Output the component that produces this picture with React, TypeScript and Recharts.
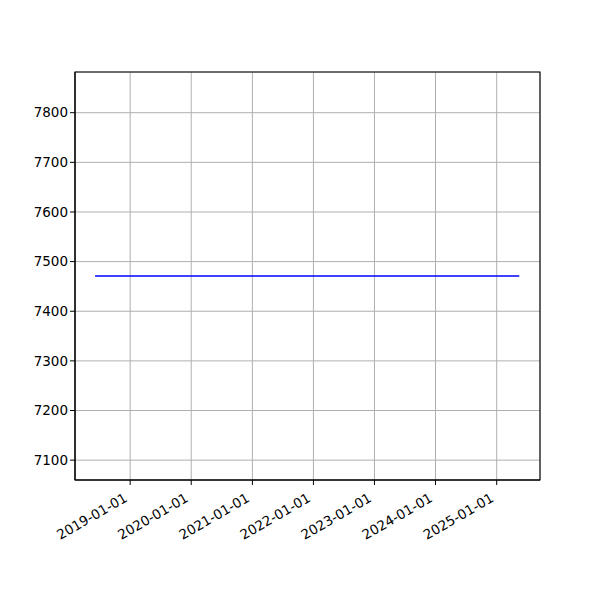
import React from 'react';
import { LineChart, Line, XAxis, YAxis, CartesianGrid, ReferenceArea } from 'recharts';

const dates = ['2018-06-05', '2025-05-16'];
const values = [7471, 7471];
const xTickDates = ['2019-01-01', '2020-01-01', '2021-01-01', '2022-01-01', '2023-01-01', '2024-01-01', '2025-01-01'];
const yTicks = [7100, 7200, 7300, 7400, 7500, 7600, 7700, 7800];
const xDomainDates = ['2018-02-05', '2025-09-17'];
const yDomain = [7060, 7882];

const toTs = (d: string) => Date.parse(d + 'T00:00:00Z');

const data = dates.map((d, i) => ({ t: toTs(d), v: values[i] }));
const xTicks = xTickDates.map(toTs);
const xDomain = xDomainDates.map(toTs);

const fmt = (t: number) => new Date(t).toISOString().slice(0, 10);

const DateTick = (props: any) => {
  const { x, y, payload } = props;
  return (
    <g transform={`translate(${x - 7},${y + 5})`}>
      <text
        textAnchor="end"
        transform="rotate(-30)"
        dy="0.75em"
        fontSize={13.5}
        fill="#000"
        fontFamily="DejaVu Sans"
      >
        {fmt(payload.value)}
      </text>
    </g>
  );
};

export default function App() {
  return (
    <div style={{ position: 'absolute', left: 0, top: 0, width: 600, height: 600, background: '#fff' }}>
      <LineChart width={600} height={600} data={data} margin={{ top: 72, right: 60, left: 0, bottom: 0 }}>
        <CartesianGrid stroke="#b0b0b0" strokeWidth={1} />
        <XAxis
          dataKey="t"
          type="number"
          scale="time"
          domain={xDomain}
          ticks={xTicks}
          tick={<DateTick />}
          tickSize={5}
          tickLine={{ stroke: '#000' }}
          axisLine={{ stroke: '#000' }}
          height={120}
          interval={0}
          allowDataOverflow
        />
        <YAxis
          type="number"
          domain={yDomain}
          ticks={yTicks}
          tickSize={5}
          tickLine={{ stroke: '#000' }}
          axisLine={{ stroke: '#000' }}
          tick={{ fill: '#000', fontSize: 13.5, fontFamily: 'DejaVu Sans' }}
          width={75}
          interval={0}
          allowDataOverflow
        />
        <ReferenceArea
          x1={xDomain[0]}
          x2={xDomain[1]}
          y1={yDomain[0]}
          y2={yDomain[1]}
          fill="none"
          stroke="#000"
          strokeWidth={1.1}
          ifOverflow="visible"
        />
        <Line dataKey="v" stroke="#0000ff" strokeWidth={1.5} dot={false} isAnimationActive={false} />
      </LineChart>
    </div>
  );
}
